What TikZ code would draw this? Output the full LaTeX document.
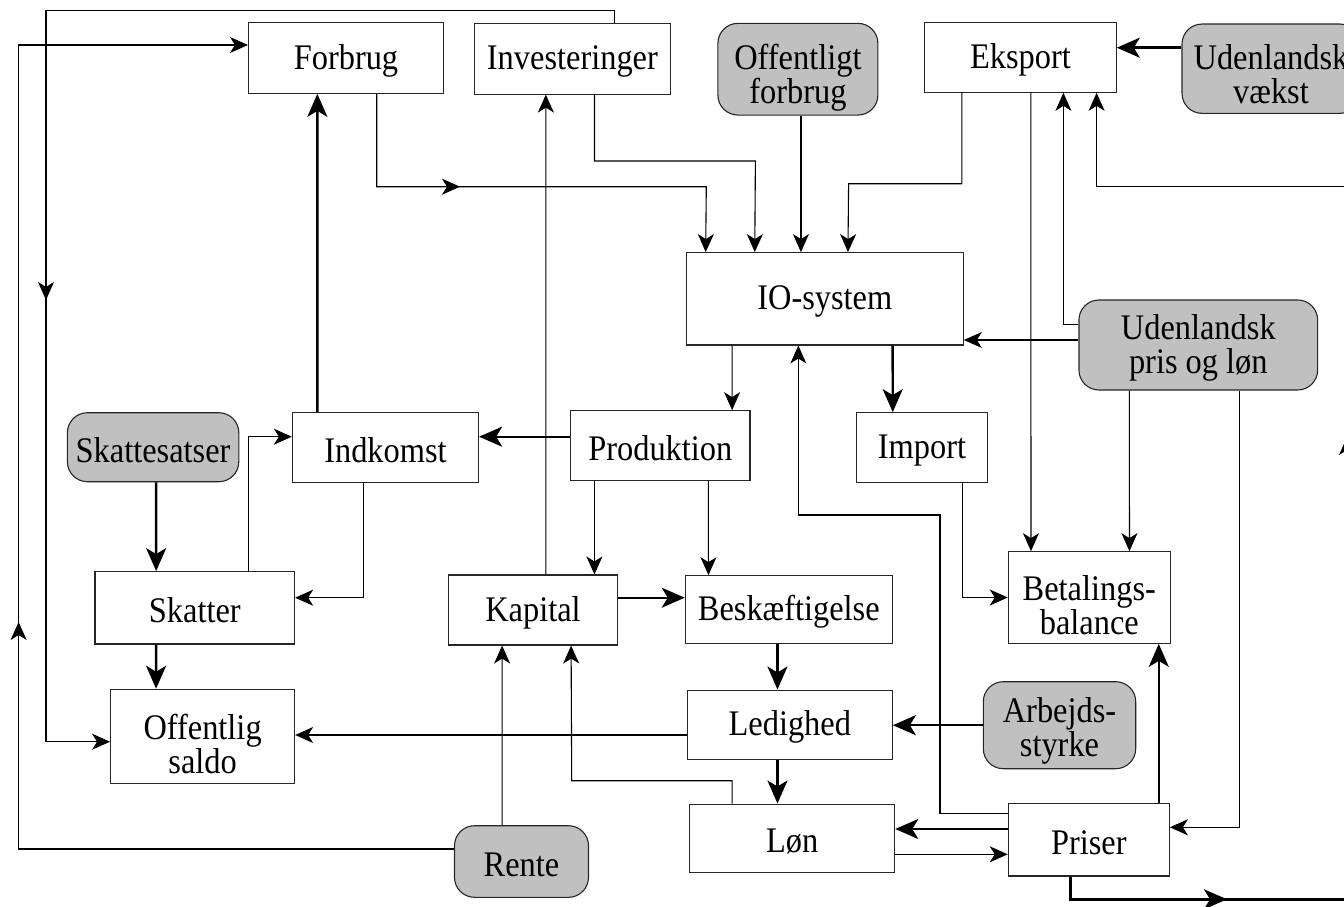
\documentclass[tikz,border=0pt]{standalone}
\usepackage{fontspec}
\setmainfont{Liberation Serif}[FakeStretch=0.9]
\usetikzlibrary{arrows.meta,calc}
\definecolor{exofill}{HTML}{C0C0C0}
\begin{document}
\begin{tikzpicture}[x=1pt,y=-1pt,
  box/.style={draw=black!85, line width=1.1pt, fill=white, inner sep=0pt, align=center, text height=30pt, font=\fontsize{36}{34}\selectfont},
  exo/.style={box, fill=exofill, rounded corners=20pt},
  twoline/.style={text height=#1, text depth=0pt},
  ln/.style={line width=1.1pt, -{Stealth[length=18pt,width=16pt,inset=5pt]}},
  lnp/.style={line width=1.1pt},
  tk/.style={line width=2.4pt, -{Stealth[length=23pt,width=20pt,inset=6pt]}},
  tkp/.style={line width=2.4pt},
]
\useasboundingbox (0,0) rectangle (1344,907);

% nodes
\node[box, minimum width=195pt, minimum height=70.6pt] (forb) at (346,58) {Forbrug};
\node[box, minimum width=196pt, minimum height=70.7pt] (inv) at (572.4,58.7) {Investeringer};
\node[exo, twoline=69pt, minimum width=160pt, minimum height=91.7pt] (off) at (797.9,69.2) {Offentligt\\forbrug};
\node[box, minimum width=191.5pt, minimum height=69.6pt] (eks) at (1020.5,57.5) {Eksport};
\node[exo, twoline=69pt, minimum width=178pt, minimum height=89.3pt] (uv) at (1271,68.7) {Udenlandsk\\vækst};
\node[box, minimum width=277pt, minimum height=92.3pt] (io) at (824.8,298.8) {IO-system};
\node[exo, twoline=57pt, minimum width=238.7pt, minimum height=90pt] (upris) at (1198.3,345) {Udenlandsk\\pris og løn};
\node[exo, minimum width=171.4pt, minimum height=69pt] (ss) at (153.1,447.2) {Skattesatser};
\node[box, minimum width=186.2pt, minimum height=69.6pt] (ind) at (385.5,447.5) {Indkomst};
\node[box, minimum width=179.3pt, minimum height=69.6pt] (prod) at (660.3,445.5) {Produktion};
\node[box, minimum width=130.6pt, minimum height=69.6pt] (imp) at (922,447.5) {Import};
\node[box, minimum width=199.6pt, minimum height=72.3pt] (sk) at (194.8,607.8) {Skatter};
\node[box, minimum width=168.7pt, minimum height=70pt] (kap) at (533,610) {Kapital};
\node[box, minimum width=207pt, minimum height=67.6pt] (besk) at (788.8,609.5) {Beskæftigelse};
\node[box, twoline=73pt, minimum width=162pt, minimum height=91.6pt] (bet) at (1089.3,597.5) {Betalings-\\balance};
\node[box, twoline=75pt, minimum width=184pt, minimum height=94pt] (saldo) at (202.6,736.3) {Offentlig\\saldo};
\node[box, minimum width=205pt, minimum height=69.3pt] (led) at (789.8,724.7) {Ledighed};
\node[exo, twoline=63pt, minimum width=152.4pt, minimum height=87pt] (arb) at (1059.5,725.2) {Arbejds-\\styrke};
\node[box, minimum width=205pt, minimum height=68.3pt] (lon) at (792.2,838.2) {Løn};
\node[box, minimum width=161pt, minimum height=72.3pt] (pris) at (1088.8,839.8) {Priser};
\node[exo, minimum width=134pt, minimum height=71.6pt] (rente) at (521.5,861.5) {Rente};

% bend and mid-arrow coordinates
\coordinate (t1) at (46,10.7);
\coordinate (m1a) at (46,280); \coordinate (m1) at (46,300);
\coordinate (t2) at (18.6,45);
\coordinate (m2a) at (18.6,645); \coordinate (m2) at (18.6,622);
\coordinate (b5) at (706.3,186.7);
\coordinate (m5a) at (440,186.7); \coordinate (m5) at (460,186.7);
\coordinate (b6) at (755.4,161);
\coordinate (b8) at (848.6,183.7);
\coordinate (r1) at (1347,899.3); \coordinate (r2) at (1347,186.7);
\coordinate (m11a) at (1200,899.3); \coordinate (m11) at (1227,899.3);
\coordinate (m12a) at (1347,460); \coordinate (m12) at (1347,437);
\coordinate (b15) at (940,515);
\coordinate (b31) at (571.7,780.7);

% connectors
\draw[ln] ($(inv.north west)+(141,0)$) |- (t1) |- ($(saldo.west)+(0,5.4)$);
\draw[ln] (m1a) -- (m1);
\draw[ln] ($(rente.west)+(0,-12.5)$) -| (t2) -- ($(forb.west)+(0,-13)$);
\draw[ln] (m2a) -- (m2);
\draw[tk] ($(ind.north west)+(25.5,0)$) -- ($(forb.south west)+(69.4,0)$);
\draw[ln] ($(kap.north west)+(97.7,0)$) -- ($(inv.south west)+(72,0)$);
\draw[ln] ($(forb.south west)+(128.8,0)$) |- (b5) -- ($(io.north west)+(19.9,0)$);
\draw[ln] (m5a) -- (m5);
\draw[ln] ($(inv.south west)+(120.6,0)$) |- (b6) -- ($(io.north west)+(69,0)$);
\draw[ln] ($(off.south west)+(83.6,0)$) -- ($(io.north west)+(115.2,0)$);
\draw[ln] ($(eks.south west)+(37.7,0)$) |- (b8) -- ($(io.north west)+(162.2,0)$);
\draw[ln] ($(eks.south west)+(106.7,0)$) -- ($(bet.north west)+(23.2,0)$);
\draw[ln] ($(upris.west)+(0,-20.7)$) -| ($(eks.south west)+(139.2,0)$);
\draw[tkp] ($(pris.south west)+(62.7,0)$) |- (r1);
\draw[tk] (m11a) -- (m11);
\draw[ln] (r1) -- (r2) -| ($(eks.south west)+(172.4,0)$);
\draw[ln] (m12a) -- (m12);
\draw[tk] ($(uv.west)+(0,-21)$) -- ($(eks.east)+(0,-9.8)$);
\draw[ln] ($(upris.west)+(0,-5)$) -- ($(io.east)+(0,41.2)$);
\draw[ln] ($(io.south west)+(46.3,0)$) -- ($(prod.north west)+(162,0)$);
\draw[ln] ($(pris.west)+(0,-26.5)$) -| (b15) -| ($(io.south west)+(112.6,0)$);
\draw[tk] ($(io.south west)+(206.9,0)$) -- ($(imp.north west)+(36.6,0)$);
\draw[tk] ($(prod.west)+(0,-8.8)$) -- ($(ind.east)+(0,-10.8)$);
\draw[ln] ($(prod.south west)+(24.3,0)$) -- ($(kap.north west)+(146.3,0)$);
\draw[ln] ($(prod.south west)+(138.3,0)$) -- ($(besk.north west)+(23.7,0)$);
\draw[tk] ($(kap.east)+(0,-12.3)$) -- ($(besk.west)+(0,-11.8)$);
\draw[ln] ($(imp.south west)+(106,0)$) |- (bet.west);
\draw[ln] ($(upris.south west)+(51,0)$) -- ($(bet.north west)+(121.7,0)$);
\draw[ln] ($(upris.south west)+(161,0)$) |- ($(pris.east)+(0,-12.5)$);
\draw[tk] ($(pris.north west)+(151,0)$) -- ($(bet.south west)+(151,0)$);
\draw[tk] ($(pris.west)+(0,-10.8)$) -- ($(lon.east)+(0,-9.2)$);
\draw[ln] ($(lon.east)+(0,16.1)$) -- ($(pris.west)+(0,14.5)$);
\draw[tk] (arb.west) -- (arb.west -| led.east);
\draw[tk] ($(besk.south west)+(92.7,0)$) -- ($(led.north west)+(90.7,0)$);
\draw[tk] ($(led.south west)+(90.7,0)$) -- ($(lon.north west)+(88.3,0)$);
\draw[ln] ($(led.west)+(0,10.3)$) -- ($(saldo.east)+(0,-1.3)$);
\draw[ln] ($(lon.north west)+(43,0)$) |- (b31) -- ($(kap.south west)+(123,0)$);
\draw[ln] ($(rente.north west)+(48.2,0)$) -- ($(kap.south west)+(54,0)$);
\draw[tk] ($(ss.south west)+(89.3,0)$) -- ($(sk.north west)+(61.7,0)$);
\draw[tk] ($(sk.south west)+(61.7,0)$) -- ($(saldo.north west)+(46,0)$);
\draw[ln] ($(sk.north west)+(153.7,0)$) |- ($(ind.west)+(0,-10.8)$);
\draw[ln] ($(ind.south west)+(71.9,0)$) |- ($(sk.east)+(0,-10.1)$);
\end{tikzpicture}
\end{document}
